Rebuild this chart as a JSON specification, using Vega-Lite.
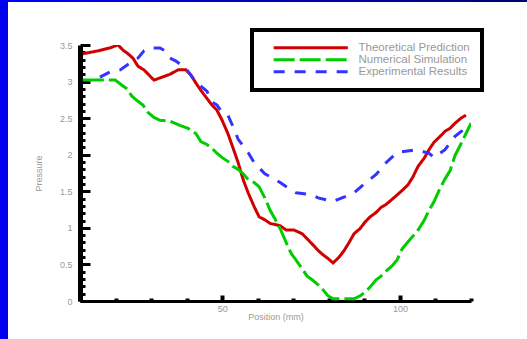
{
  "$schema": "https://vega.github.io/schema/vega-lite/v6.json",
  "background": "white",
  "padding": 0,
  "bounds": "flush",
  "spacing": 0,
  "config": {
    "view": {"stroke": null},
    "font": "Liberation Sans",
    "legend": {"strokeColor": "black", "strokeWidth": 4, "fillColor": "white", "padding": 12}
  },
  "datasets": {
    "curves": [
      {"series": "Theoretical Prediction", "x": 10.8, "y": 3.38},
      {"series": "Theoretical Prediction", "x": 15.1, "y": 3.42},
      {"series": "Theoretical Prediction", "x": 18.4, "y": 3.46},
      {"series": "Theoretical Prediction", "x": 20.7, "y": 3.5},
      {"series": "Theoretical Prediction", "x": 22.1, "y": 3.43},
      {"series": "Theoretical Prediction", "x": 23.5, "y": 3.38},
      {"series": "Theoretical Prediction", "x": 24.9, "y": 3.32},
      {"series": "Theoretical Prediction", "x": 26.3, "y": 3.21},
      {"series": "Theoretical Prediction", "x": 28.0, "y": 3.16},
      {"series": "Theoretical Prediction", "x": 29.4, "y": 3.09},
      {"series": "Theoretical Prediction", "x": 30.8, "y": 3.02},
      {"series": "Theoretical Prediction", "x": 33.1, "y": 3.06},
      {"series": "Theoretical Prediction", "x": 35.3, "y": 3.1},
      {"series": "Theoretical Prediction", "x": 37.6, "y": 3.16},
      {"series": "Theoretical Prediction", "x": 39.8, "y": 3.16},
      {"series": "Theoretical Prediction", "x": 41.2, "y": 3.09},
      {"series": "Theoretical Prediction", "x": 42.6, "y": 2.98},
      {"series": "Theoretical Prediction", "x": 44.0, "y": 2.88},
      {"series": "Theoretical Prediction", "x": 45.7, "y": 2.77},
      {"series": "Theoretical Prediction", "x": 47.1, "y": 2.68},
      {"series": "Theoretical Prediction", "x": 48.5, "y": 2.61},
      {"series": "Theoretical Prediction", "x": 50.0, "y": 2.47},
      {"series": "Theoretical Prediction", "x": 51.6, "y": 2.29},
      {"series": "Theoretical Prediction", "x": 53.0, "y": 2.1},
      {"series": "Theoretical Prediction", "x": 54.5, "y": 1.89},
      {"series": "Theoretical Prediction", "x": 55.9, "y": 1.66},
      {"series": "Theoretical Prediction", "x": 57.3, "y": 1.48},
      {"series": "Theoretical Prediction", "x": 59.0, "y": 1.29},
      {"series": "Theoretical Prediction", "x": 60.4, "y": 1.15},
      {"series": "Theoretical Prediction", "x": 62.0, "y": 1.11},
      {"series": "Theoretical Prediction", "x": 63.5, "y": 1.06},
      {"series": "Theoretical Prediction", "x": 66.3, "y": 1.03},
      {"series": "Theoretical Prediction", "x": 68.0, "y": 0.97},
      {"series": "Theoretical Prediction", "x": 70.2, "y": 0.97},
      {"series": "Theoretical Prediction", "x": 72.5, "y": 0.92},
      {"series": "Theoretical Prediction", "x": 73.9, "y": 0.85},
      {"series": "Theoretical Prediction", "x": 75.3, "y": 0.78},
      {"series": "Theoretical Prediction", "x": 77.0, "y": 0.69},
      {"series": "Theoretical Prediction", "x": 78.4, "y": 0.63},
      {"series": "Theoretical Prediction", "x": 79.8, "y": 0.58},
      {"series": "Theoretical Prediction", "x": 81.2, "y": 0.52},
      {"series": "Theoretical Prediction", "x": 82.9, "y": 0.6},
      {"series": "Theoretical Prediction", "x": 84.3, "y": 0.69},
      {"series": "Theoretical Prediction", "x": 85.7, "y": 0.8},
      {"series": "Theoretical Prediction", "x": 87.1, "y": 0.92},
      {"series": "Theoretical Prediction", "x": 88.8, "y": 0.99},
      {"series": "Theoretical Prediction", "x": 90.2, "y": 1.08},
      {"series": "Theoretical Prediction", "x": 91.6, "y": 1.15},
      {"series": "Theoretical Prediction", "x": 93.3, "y": 1.21},
      {"series": "Theoretical Prediction", "x": 94.7, "y": 1.28},
      {"series": "Theoretical Prediction", "x": 96.1, "y": 1.32},
      {"series": "Theoretical Prediction", "x": 97.8, "y": 1.39},
      {"series": "Theoretical Prediction", "x": 99.2, "y": 1.45},
      {"series": "Theoretical Prediction", "x": 100.6, "y": 1.51},
      {"series": "Theoretical Prediction", "x": 102.3, "y": 1.59},
      {"series": "Theoretical Prediction", "x": 103.7, "y": 1.7},
      {"series": "Theoretical Prediction", "x": 105.1, "y": 1.84},
      {"series": "Theoretical Prediction", "x": 106.8, "y": 1.95},
      {"series": "Theoretical Prediction", "x": 108.2, "y": 2.07},
      {"series": "Theoretical Prediction", "x": 109.6, "y": 2.17},
      {"series": "Theoretical Prediction", "x": 111.3, "y": 2.25},
      {"series": "Theoretical Prediction", "x": 112.7, "y": 2.32},
      {"series": "Theoretical Prediction", "x": 114.1, "y": 2.36},
      {"series": "Theoretical Prediction", "x": 115.5, "y": 2.43},
      {"series": "Theoretical Prediction", "x": 117.2, "y": 2.5},
      {"series": "Theoretical Prediction", "x": 118.6, "y": 2.54},

      {"series": "Numerical Simulation", "x": 10.8, "y": 3.02},
      {"series": "Numerical Simulation", "x": 19.9, "y": 3.02},
      {"series": "Numerical Simulation", "x": 21.8, "y": 2.95},
      {"series": "Numerical Simulation", "x": 23.2, "y": 2.9},
      {"series": "Numerical Simulation", "x": 24.6, "y": 2.8},
      {"series": "Numerical Simulation", "x": 26.3, "y": 2.73},
      {"series": "Numerical Simulation", "x": 27.7, "y": 2.68},
      {"series": "Numerical Simulation", "x": 29.1, "y": 2.58},
      {"series": "Numerical Simulation", "x": 30.8, "y": 2.51},
      {"series": "Numerical Simulation", "x": 32.5, "y": 2.47},
      {"series": "Numerical Simulation", "x": 35.3, "y": 2.46},
      {"series": "Numerical Simulation", "x": 38.1, "y": 2.4},
      {"series": "Numerical Simulation", "x": 40.4, "y": 2.36},
      {"series": "Numerical Simulation", "x": 42.6, "y": 2.29},
      {"series": "Numerical Simulation", "x": 44.0, "y": 2.18},
      {"series": "Numerical Simulation", "x": 45.7, "y": 2.14},
      {"series": "Numerical Simulation", "x": 47.1, "y": 2.09},
      {"series": "Numerical Simulation", "x": 48.5, "y": 2.02},
      {"series": "Numerical Simulation", "x": 50.0, "y": 1.96},
      {"series": "Numerical Simulation", "x": 51.6, "y": 1.91},
      {"series": "Numerical Simulation", "x": 53.0, "y": 1.84},
      {"series": "Numerical Simulation", "x": 54.5, "y": 1.8},
      {"series": "Numerical Simulation", "x": 55.9, "y": 1.74},
      {"series": "Numerical Simulation", "x": 57.3, "y": 1.66},
      {"series": "Numerical Simulation", "x": 59.0, "y": 1.62},
      {"series": "Numerical Simulation", "x": 60.4, "y": 1.56},
      {"series": "Numerical Simulation", "x": 62.0, "y": 1.41},
      {"series": "Numerical Simulation", "x": 63.5, "y": 1.24},
      {"series": "Numerical Simulation", "x": 65.1, "y": 1.1},
      {"series": "Numerical Simulation", "x": 66.5, "y": 0.97},
      {"series": "Numerical Simulation", "x": 68.0, "y": 0.8},
      {"series": "Numerical Simulation", "x": 69.4, "y": 0.65},
      {"series": "Numerical Simulation", "x": 70.8, "y": 0.56},
      {"series": "Numerical Simulation", "x": 72.5, "y": 0.44},
      {"series": "Numerical Simulation", "x": 73.9, "y": 0.34},
      {"series": "Numerical Simulation", "x": 75.3, "y": 0.29},
      {"series": "Numerical Simulation", "x": 77.0, "y": 0.22},
      {"series": "Numerical Simulation", "x": 78.4, "y": 0.15},
      {"series": "Numerical Simulation", "x": 79.8, "y": 0.07},
      {"series": "Numerical Simulation", "x": 81.2, "y": 0.03},
      {"series": "Numerical Simulation", "x": 85.7, "y": 0.03},
      {"series": "Numerical Simulation", "x": 87.1, "y": 0.03},
      {"series": "Numerical Simulation", "x": 88.8, "y": 0.07},
      {"series": "Numerical Simulation", "x": 90.2, "y": 0.12},
      {"series": "Numerical Simulation", "x": 91.6, "y": 0.19},
      {"series": "Numerical Simulation", "x": 93.3, "y": 0.29},
      {"series": "Numerical Simulation", "x": 94.7, "y": 0.34},
      {"series": "Numerical Simulation", "x": 96.1, "y": 0.41},
      {"series": "Numerical Simulation", "x": 97.8, "y": 0.48},
      {"series": "Numerical Simulation", "x": 99.2, "y": 0.56},
      {"series": "Numerical Simulation", "x": 100.6, "y": 0.71},
      {"series": "Numerical Simulation", "x": 102.3, "y": 0.81},
      {"series": "Numerical Simulation", "x": 103.7, "y": 0.89},
      {"series": "Numerical Simulation", "x": 105.1, "y": 0.97},
      {"series": "Numerical Simulation", "x": 106.8, "y": 1.1},
      {"series": "Numerical Simulation", "x": 108.2, "y": 1.24},
      {"series": "Numerical Simulation", "x": 109.6, "y": 1.36},
      {"series": "Numerical Simulation", "x": 111.3, "y": 1.54},
      {"series": "Numerical Simulation", "x": 112.7, "y": 1.67},
      {"series": "Numerical Simulation", "x": 114.1, "y": 1.78},
      {"series": "Numerical Simulation", "x": 115.5, "y": 1.99},
      {"series": "Numerical Simulation", "x": 117.2, "y": 2.15},
      {"series": "Numerical Simulation", "x": 118.6, "y": 2.29},
      {"series": "Numerical Simulation", "x": 120.0, "y": 2.43},

      {"series": "Experimental Results", "x": 15.6, "y": 3.06},
      {"series": "Experimental Results", "x": 18.4, "y": 3.13},
      {"series": "Experimental Results", "x": 21.3, "y": 3.16},
      {"series": "Experimental Results", "x": 24.9, "y": 3.28},
      {"series": "Experimental Results", "x": 26.3, "y": 3.32},
      {"series": "Experimental Results", "x": 28.0, "y": 3.42},
      {"series": "Experimental Results", "x": 29.4, "y": 3.46},
      {"series": "Experimental Results", "x": 32.5, "y": 3.46},
      {"series": "Experimental Results", "x": 33.9, "y": 3.42},
      {"series": "Experimental Results", "x": 35.3, "y": 3.32},
      {"series": "Experimental Results", "x": 37.0, "y": 3.28},
      {"series": "Experimental Results", "x": 39.8, "y": 3.18},
      {"series": "Experimental Results", "x": 42.6, "y": 2.99},
      {"series": "Experimental Results", "x": 45.7, "y": 2.87},
      {"series": "Experimental Results", "x": 47.1, "y": 2.72},
      {"series": "Experimental Results", "x": 48.5, "y": 2.68},
      {"series": "Experimental Results", "x": 50.0, "y": 2.58},
      {"series": "Experimental Results", "x": 51.6, "y": 2.54},
      {"series": "Experimental Results", "x": 53.0, "y": 2.39},
      {"series": "Experimental Results", "x": 54.5, "y": 2.21},
      {"series": "Experimental Results", "x": 57.3, "y": 2.03},
      {"series": "Experimental Results", "x": 59.0, "y": 1.89},
      {"series": "Experimental Results", "x": 62.0, "y": 1.74},
      {"series": "Experimental Results", "x": 63.5, "y": 1.7},
      {"series": "Experimental Results", "x": 66.3, "y": 1.62},
      {"series": "Experimental Results", "x": 69.4, "y": 1.52},
      {"series": "Experimental Results", "x": 70.8, "y": 1.48},
      {"series": "Experimental Results", "x": 75.3, "y": 1.45},
      {"series": "Experimental Results", "x": 77.0, "y": 1.41},
      {"series": "Experimental Results", "x": 81.2, "y": 1.36},
      {"series": "Experimental Results", "x": 85.7, "y": 1.45},
      {"series": "Experimental Results", "x": 87.1, "y": 1.48},
      {"series": "Experimental Results", "x": 90.2, "y": 1.61},
      {"series": "Experimental Results", "x": 93.3, "y": 1.73},
      {"series": "Experimental Results", "x": 96.1, "y": 1.89},
      {"series": "Experimental Results", "x": 99.2, "y": 2.03},
      {"series": "Experimental Results", "x": 103.7, "y": 2.06},
      {"series": "Experimental Results", "x": 105.1, "y": 2.06},
      {"series": "Experimental Results", "x": 108.2, "y": 2.02},
      {"series": "Experimental Results", "x": 109.6, "y": 1.96},
      {"series": "Experimental Results", "x": 112.7, "y": 2.07},
      {"series": "Experimental Results", "x": 115.5, "y": 2.25},
      {"series": "Experimental Results", "x": 118.6, "y": 2.37}
    ]
  },
  "vconcat": [
    {
      "width": 527,
      "height": 2,
      "view": {"fill": {"gradient": "linear", "x1": 0, "y1": 0, "x2": 1, "y2": 0, "stops": [{"offset": 0, "color": "#0000ff"}, {"offset": 1, "color": "#000070"}]}, "stroke": null},
      "data": {"values": []},
      "mark": "rule",
      "encoding": {}
    },
    {
      "bounds": "flush",
      "spacing": 72,
      "center": true,
      "hconcat": [
        {
          "width": 8,
          "height": 342,
          "view": {"fill": "#0000ee", "stroke": null},
          "data": {"values": []},
          "mark": "rule",
          "encoding": {}
        },
        {
          "width": 391,
          "height": 256,
          "data": {"name": "curves"},
          "mark": {"type": "line", "strokeWidth": 3, "clip": true},
          "encoding": {
            "x": {
              "field": "x",
              "type": "quantitative",
              "scale": {"domain": [10, 120], "nice": false, "zero": false},
              "axis": {
                "values": [10, 20, 30, 40, 50, 60, 70, 80, 90, 100, 110, 120],
                "title": "Position (mm)",
                "titleColor": "#999999",
                "titleFontSize": 9,
                "titleFontWeight": "normal",
                "titlePadding": -4,
                "grid": false,
                "domainColor": "black",
                "domainWidth": 3,
                "tickColor": "black",
                "tickWidth": 4,
                "tickSize": {"condition": {"test": "datum.value == 50 || datum.value == 100", "value": -6}, "value": -3},
                "labelExpr": "datum.value == 50 || datum.value == 100 ? datum.label : ''",
                "labelOverlap": false,
                "labelBound": false,
                "labelFlush": false,
                "labelColor": "#999999",
                "labelFontSize": 9,
                "labelPadding": 9
              }
            },
            "y": {
              "field": "y",
              "type": "quantitative",
              "scale": {"domain": [0, 3.5], "nice": false, "zero": false},
              "axis": {
                "values": [0, 0.1, 0.2, 0.3, 0.4, 0.5, 0.6, 0.7, 0.8, 0.9, 1, 1.1, 1.2, 1.3, 1.4, 1.5, 1.6, 1.7, 1.8, 1.9, 2, 2.1, 2.2, 2.3, 2.4, 2.5, 2.6, 2.7, 2.8, 2.9, 3, 3.1, 3.2, 3.3, 3.4, 3.5],
                "format": "~g",
                "title": "Pressure",
                "titleColor": "#999999",
                "titleFontSize": 9,
                "titleFontWeight": "normal",
                "titlePadding": 16,
                "grid": false,
                "domainColor": "black",
                "domainWidth": 5,
                "tickColor": "black",
                "tickWidth": 3,
                "tickSize": {"condition": {"test": "abs(datum.value * 2 - round(datum.value * 2)) < 0.001", "value": -10}, "value": -5},
                "labelExpr": "abs(datum.value * 2 - round(datum.value * 2)) < 0.001 ? datum.label : ''",
                "labelOverlap": false,
                "labelBound": false,
                "labelFlush": false,
                "labelColor": "#999999",
                "labelFontSize": 9,
                "labelPadding": 18
              }
            },
            "color": {
              "field": "series",
              "type": "nominal",
              "scale": {"domain": ["Theoretical Prediction", "Numerical Simulation", "Experimental Results"], "range": ["#d00000", "#00cc00", "#3333ff"]},
              "legend": {
                "orient": "none", "legendX": 252, "legendY": 30, "title": null,
                "symbolType": "M-10,0H10", "symbolSize": 55, "symbolStrokeWidth": 3, "symbolOffset": 41,
                "labelFontSize": 11.5, "labelColor": "#999999", "labelOffset": 42, "rowPadding": -3.5
              }
            },
            "strokeDash": {
              "field": "series",
              "type": "nominal",
              "scale": {"domain": ["Theoretical Prediction", "Numerical Simulation", "Experimental Results"], "range": [[1, 0], [21, 5], [11, 10]]},
              "legend": {
                "orient": "none", "legendX": 252, "legendY": 30, "title": null,
                "symbolType": "M-10,0H10", "symbolSize": 55, "symbolStrokeWidth": 3, "symbolOffset": 41,
                "labelFontSize": 11.5, "labelColor": "#999999", "labelOffset": 42, "rowPadding": -3.5
              }
            }
          }
        }
      ]
    }
  ]
}
